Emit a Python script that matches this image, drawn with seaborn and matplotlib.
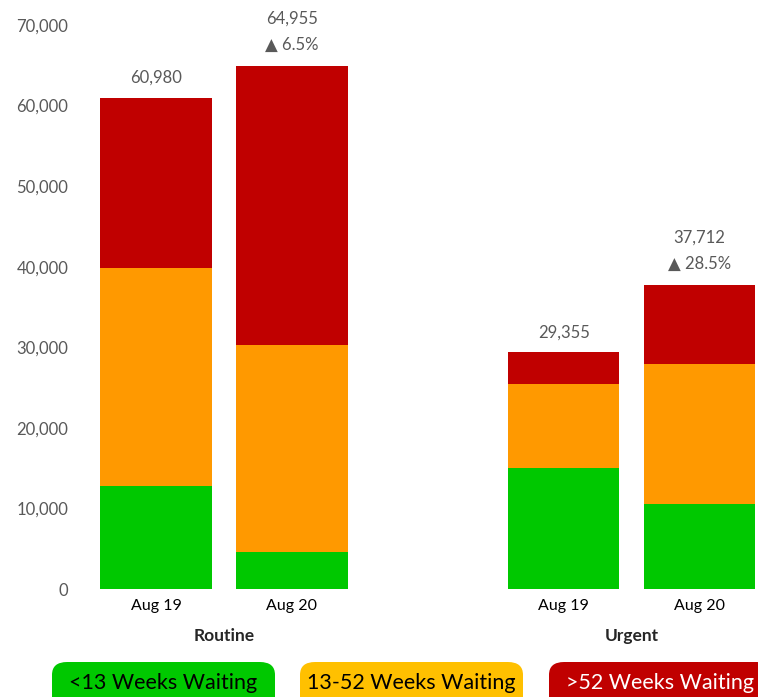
import numpy as np
import pandas as pd
import matplotlib
matplotlib.use("Agg")
import matplotlib.pyplot as plt
from matplotlib.patches import FancyBboxPatch
import seaborn as sns

# values
groups = ["Routine", "Routine", "Urgent", "Urgent"]
periods = ["Aug 19", "Aug 20", "Aug 19", "Aug 20"]
under_13 = [12780, 4590, 15020, 10550]
weeks_13_52 = [27060, 25690, 10420, 17380]
over_52 = [21140, 34675, 3915, 9782]
totals = [60980, 64955, 29355, 37712]
changes = ["", "6.5%", "", "28.5%"]
legend_labels = ["<13 Weeks Waiting", "13-52 Weeks Waiting", ">52 Weeks Waiting"]

sns.set_style("white")
plt.rcParams["font.family"] = ["Lato", "DejaVu Sans"]

GREEN = "#00C800"
ORANGE = "#FF9900"
RED = "#C00000"
GREY = "#595959"

df = pd.DataFrame({"group": groups, "period": periods,
                   "green": under_13, "orange": weeks_13_52, "red": over_52})
df["x"] = [0, 1, 3, 4]  # gap between the two groups
df["cum_orange"] = df["green"] + df["orange"]
df["cum_red"] = df["cum_orange"] + df["red"]

fig = plt.figure(figsize=(7.58, 6.97), dpi=100)
ax = fig.add_axes([85 / 758, (697 - 589) / 697, 1 - 85 / 758, (589 - 25) / 697])

# stacked look by overlaying cumulative totals
for col, color in [("cum_red", RED), ("cum_orange", ORANGE), ("green", GREEN)]:
    sns.barplot(data=df, x="x", y=col, native_scale=True, width=0.82,
                color=color, saturation=1, linewidth=0, ax=ax)

ax.set_xlim(-0.522, 4.43)
ax.set_ylim(0, 70000)
ax.set_yticks(np.arange(0, 70001, 10000))
ax.set_yticklabels([f"{v:,}" for v in range(0, 70001, 10000)])
ax.tick_params(axis="y", length=0, pad=12, labelsize=12, labelcolor=GREY)
ax.set_xticks(df["x"])
ax.set_xticklabels(df["period"])
ax.tick_params(axis="x", length=0, pad=7, labelsize=11.5, labelcolor="black")
ax.set_xlabel("")
ax.set_ylabel("")
sns.despine(ax=ax, left=True, bottom=True)

# totals and change above bars
for xi, tot, ch in zip(df["x"], totals, changes):
    if ch:
        ax.annotate(f"{tot:,}", (xi, tot), xytext=(0, 34), textcoords="offset points",
                    ha="center", va="center", fontsize=12, color=GREY, annotation_clip=False)
        ax.annotate("▲ " + ch, (xi, tot), xytext=(0, 15), textcoords="offset points",
                    ha="center", va="center", fontsize=12, color=GREY, annotation_clip=False)
    else:
        ax.annotate(f"{tot:,}", (xi, tot), xytext=(0, 14.5), textcoords="offset points",
                    ha="center", va="center", fontsize=12, color=GREY, annotation_clip=False)

# group labels
for grp in ["Routine", "Urgent"]:
    xm = df.loc[df["group"] == grp, "x"].mean()
    ax.annotate(grp, (xm, 0), xytext=(0, -33.5), textcoords="offset points",
                ha="center", va="center", fontsize=12.5, fontweight="bold",
                annotation_clip=False)

# legend boxes at the bottom
boxes = [(52, GREEN, "black"), (300, "#FFC000", "black"), (549, RED, "white")]
for (x0, fc, tc), label in zip(boxes, legend_labels):
    patch = FancyBboxPatch((x0 / 758, -0.03), 223 / 758, (697 - 662) / 697 + 0.03,
                           boxstyle="round,pad=0,rounding_size=0.02",
                           transform=fig.transFigure, fc=fc, ec="none",
                           mutation_aspect=697 / 758)
    fig.patches.append(patch)
    fig.text((x0 + 111.5) / 758, (697 - 683) / 697, label, ha="center", va="center",
             fontsize=15.5, color=tc)

fig.savefig("out.png", dpi=100)
